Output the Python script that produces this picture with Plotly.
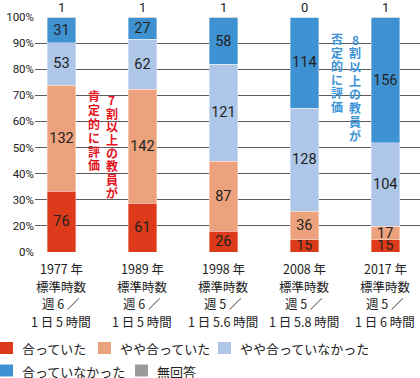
import plotly.graph_objects as go

# ---- data ----
categories = [
    "1977 年<br>標準時数<br>週 6 ／<br>1 日 5 時間",
    "1989 年<br>標準時数<br>週 6 ／<br>1 日 5 時間",
    "1998 年<br>標準時数<br>週 5 ／<br>1 日 5.6 時間",
    "2008 年<br>標準時数<br>週 5 ／<br>1 日 5.8 時間",
    "2017 年<br>標準時数<br>週 5 ／<br>1 日 6 時間",
]
series_names = ["合っていた", "やや合っていた", "やや合っていなかった", "合っていなかった", "無回答"]
fit = [76, 61, 26, 15, 15]
somewhat_fit = [132, 142, 87, 36, 17]
somewhat_unfit = [53, 62, 121, 128, 104]
unfit = [31, 27, 58, 114, 156]
no_answer = [1, 1, 1, 0, 1]
y_tick_labels = ["0%", "20%", "30%", "40%", "50%", "60%", "70%", "80%", "90%", "100%"]

colors = ["#dc3a1a", "#eca27c", "#aec7e8", "#3f92d2", "#9a9a9a"]
series = [fit, somewhat_fit, somewhat_unfit, unfit, no_answer]

W, H = 420, 378
ML, MR, MT, MB = 35, 0, 17, 126
PW, PH = W - ML - MR, H - MT - MB

def px_x(x):
    return (x - ML) / PW

def px_y(y):
    return (H - MB - y) / PH

NUM_FONT = "Roboto, 'Noto Sans CJK JP', sans-serif"
JP_FONT = "'Noto Sans CJK JP', sans-serif"

fig = go.Figure()
for name, vals, col in zip(series_names, series, colors):
    show_text = name != "無回答"
    fig.add_trace(go.Bar(
        x=categories, y=vals, name=name,
        marker=dict(color=col, line=dict(color="rgba(255,255,255,0.6)", width=0.6)),
        width=0.352,
        text=[str(v) for v in vals] if show_text else None,
        textposition="inside" if show_text else "none",
        insidetextanchor="middle",
        textangle=0,
        constraintext="none",
        textfont=dict(family=NUM_FONT, size=14.5, color="#222"),
        showlegend=False,
        hoverinfo="skip",
    ))

annotations = []
# no-answer counts above bars
for c, v in zip(categories, no_answer):
    annotations.append(dict(
        x=c, y=1, xref="x", yref="y", text=str(v), showarrow=False,
        yshift=10, font=dict(family=NUM_FONT, size=13, color="#222"),
    ))

# category labels, one line at a time for exact line spacing
line_y = [268.3, 285.5, 303.3, 320.7]
for c in categories:
    for ln, yy in zip(c.split("<br>"), line_y):
        annotations.append(dict(
            x=c, y=px_y(yy), xref="x", yref="paper", text=ln, showarrow=False,
            xanchor="center", yanchor="middle", height=16,
            font=dict(family=JP_FONT, size=12.5, color="#222"),
        ))

def vertical(text, xc, ytop, step, color):
    for i, ch in enumerate(text):
        annotations.append(dict(
            x=px_x(xc), y=px_y(ytop + step * (i + 0.5)), xref="paper", yref="paper",
            text="<b>" + ch + "</b>", showarrow=False, xanchor="center", yanchor="middle",
            height=13, font=dict(family=JP_FONT, size=12, color=color),
        ))

vertical("7割以上の教員が", 111.7, 93.3, 13.2, "#e5141e")
vertical("肯定的に評価", 93.7, 89, 13.8, "#e5141e")
vertical("8割以上の教員が", 355, 32.3, 13.7, "#3c94d6")
vertical("否定的に評価", 336.7, 31.7, 13.6, "#3c94d6")

# legend (manual)
legend_items = [
    (0, 348, 20), (98, 348, 118), (218, 348, 238),
    (0, 370.5, 20), (135, 370.5, 155),
]
shapes = []
for (sx, sy, tx), name, col in zip(legend_items, series_names, colors):
    shapes.append(dict(type="rect", xref="paper", yref="paper",
                       x0=px_x(sx), x1=px_x(sx + 13), y0=px_y(sy - 6), y1=px_y(sy + 6),
                       fillcolor=col, line=dict(width=0)))
    annotations.append(dict(x=px_x(tx), y=px_y(sy), xref="paper", yref="paper",
                            text=name, showarrow=False, xanchor="left", yanchor="middle",
                            height=14, font=dict(family=JP_FONT, size=13, color="#222")))

fig.update_layout(
    barmode="stack", barnorm="fraction",
    width=W, height=H,
    margin=dict(l=ML, r=MR, t=MT, b=MB, pad=0, autoexpand=False),
    paper_bgcolor="white", plot_bgcolor="white",
    font=dict(family=JP_FONT, color="#222"),
    annotations=annotations, shapes=shapes,
    xaxis=dict(range=[-0.327, 4.429], showgrid=False, showline=False, zeroline=False,
               automargin=False, showticklabels=False, ticks=""),
    yaxis=dict(range=[0, 1], tickvals=[i / (len(y_tick_labels) - 1) for i in range(len(y_tick_labels))],
               ticktext=y_tick_labels, showgrid=True, gridcolor="#5c5c5c", gridwidth=1.3,
               zeroline=False, showline=False, ticks="", automargin=False,
               tickfont=dict(family=NUM_FONT, size=11.5, color="#222")),
)

fig.write_html(
    "out.html",
    config={"displayModeBar": False},
    post_script="document.body.style.margin='0';document.body.style.padding='0';",
)
